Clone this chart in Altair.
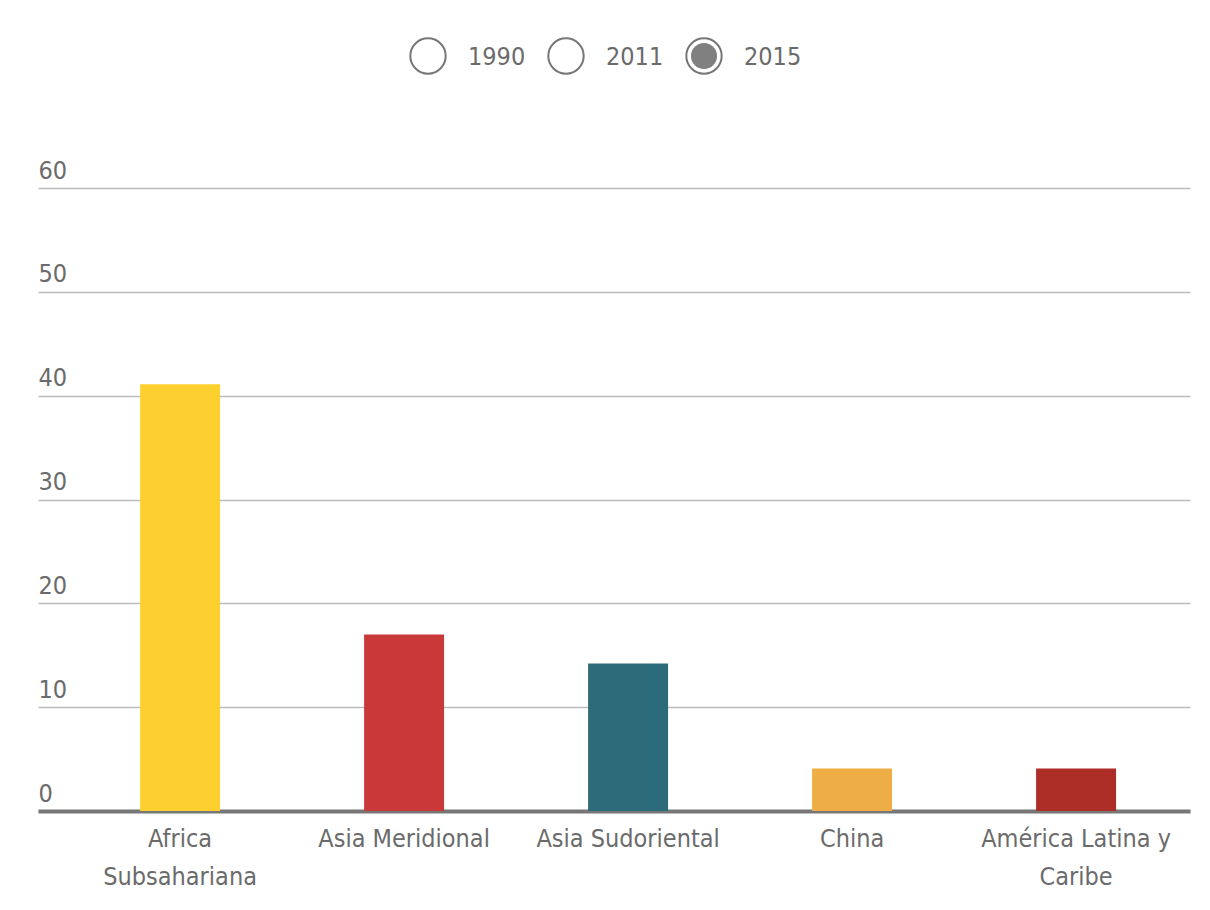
import altair as alt
import pandas as pd

regions = ["Africa Subsahariana", "Asia Meridional", "Asia Sudoriental", "China", "América Latina y Caribe"]
values_2015 = [41.1, 17.0, 14.2, 4.1, 4.1]
bar_colors = ["#FDD030", "#C9393A", "#2C6B79", "#EEAE45", "#AD2D27"]
years = ["1990", "2011", "2015"]
selected_year = "2015"
y_ticks = [0, 10, 20, 30, 40, 50, 60]

FONT = "DejaVu Sans Condensed, Liberation Sans Narrow, sans-serif"
FS = 25
TXT = "#6b6b6b"

bars_df = pd.DataFrame({"region": regions, "value": values_2015})
years_df = pd.DataFrame({"year": years, "selected": [y == selected_year for y in years]})

label_expr = (
    "datum.label == 'Africa Subsahariana' ? ['Africa', 'Subsahariana'] : "
    "datum.label == 'América Latina y Caribe' ? ['América Latina y', 'Caribe'] : datum.label"
)

bars = alt.Chart(bars_df).mark_bar().encode(
    x=alt.X(
        "region:N",
        sort=regions,
        title=None,
        scale=alt.Scale(paddingInner=0.643, paddingOuter=0.393, align=0.58),
        axis=alt.Axis(
            labelAngle=0,
            labelFont=FONT,
            labelFontSize=FS,
            labelColor=TXT,
            labelPadding=15,
            labelLineHeight=38,
            labelLimit=0,
            labelExpr=label_expr,
            ticks=False,
            domainColor="#777777",
            domainWidth=4,
            grid=False,
        ),
    ),
    y=alt.Y(
        "value:Q",
        title=None,
        scale=alt.Scale(domain=[0, 60], nice=False),
        axis=alt.Axis(
            values=y_ticks,
            labelAlign="left",
            labelBaseline="alphabetic",
            labelOffset=-10,
            labelPadding=0,
            ticks=False,
            tickSize=0,
            domain=False,
            labelFont=FONT,
            labelFontSize=FS,
            labelColor=TXT,
            gridColor="#bbbbbb",
            gridWidth=1.5,
        ),
    ),
    color=alt.Color("region:N", scale=alt.Scale(domain=regions, range=bar_colors), legend=None),
)

radio_x = alt.X(
    "year:N",
    scale=alt.Scale(type="point", domain=years, range=[390, 666], padding=0),
    axis=None,
)

outer = alt.Chart(years_df).mark_circle(
    size=1250, fill="white", stroke="#777777", strokeWidth=2, opacity=1
).encode(x=radio_x, y=alt.value(-132))

inner = alt.Chart(years_df).transform_filter("datum.selected").mark_circle(
    size=680, color="#808080", opacity=1
).encode(x=radio_x, y=alt.value(-132))

labels = alt.Chart(years_df).mark_text(
    align="left", baseline="middle", dx=40, dy=1, font=FONT, fontSize=FS, color=TXT
).encode(x=radio_x, y=alt.value(-132), text="year:N")

chart = alt.layer(bars, outer, inner, labels).resolve_scale(x="independent", color="independent").properties(
    width=1152,
    height=623,
    padding={"left": 30, "top": 180, "right": 12, "bottom": 80},
    autosize="none",
    background="white",
).configure_view(stroke=None)

chart.save("out.html", embed_options={"renderer": "svg", "actions": False})
